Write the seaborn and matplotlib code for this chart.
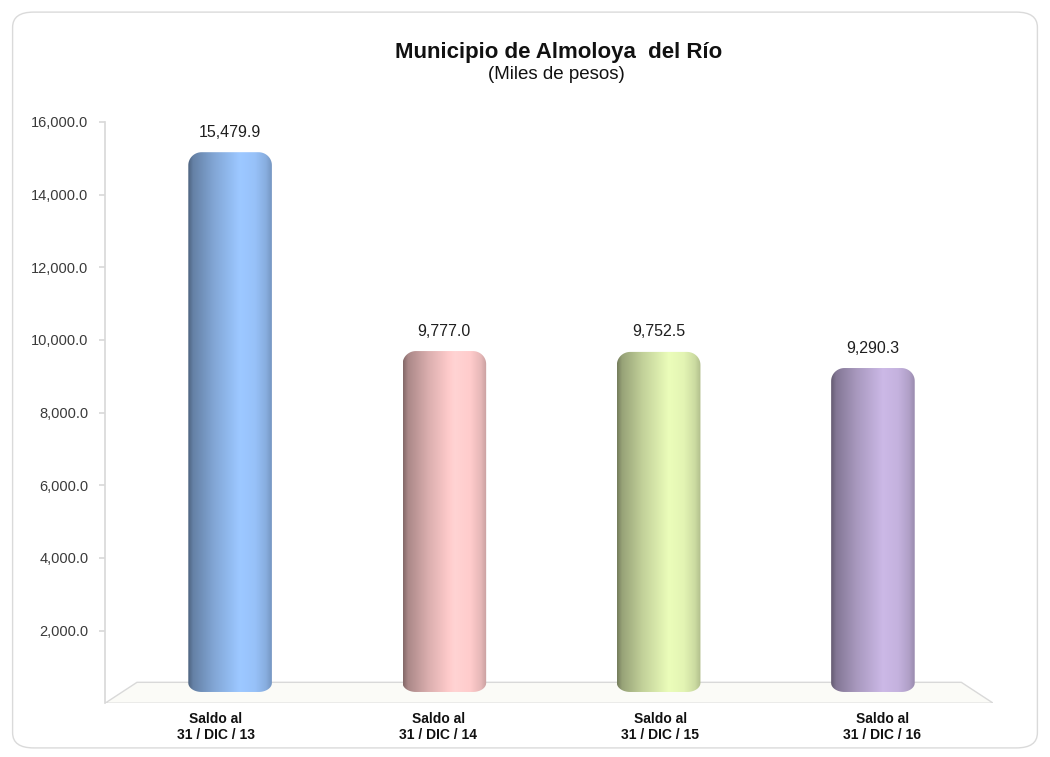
import numpy as np
import pandas as pd
import matplotlib
matplotlib.use("Agg")
import matplotlib.pyplot as plt
import seaborn as sns
from matplotlib.patches import FancyBboxPatch, Polygon
from matplotlib.colors import to_rgb
from matplotlib.ticker import FuncFormatter, FixedLocator

categories = ["Saldo al\n31 / DIC / 13", "Saldo al\n31 / DIC / 14",
              "Saldo al\n31 / DIC / 15", "Saldo al\n31 / DIC / 16"]
values = [15479.9, 9777.0, 9752.5, 9290.3]
bar_colors = ["#8CB3E6", "#EDBDBD", "#D2E2A6", "#B6A5CE"]
title = "Municipio de Almoloya  del Río"
subtitle = "(Miles de pesos)"
yticks = [2000, 4000, 6000, 8000, 10000, 12000, 14000, 16000]

sns.set_theme(style="white")
plt.rcParams['font.family'] = ['Liberation Sans', 'DejaVu Sans']

fig = plt.figure(figsize=(10.5, 7.57), dpi=100)
frame = FancyBboxPatch((0.012, 0.012), 0.976, 0.972, boxstyle="round,pad=0,rounding_size=0.02",
                       transform=fig.transFigure, facecolor="white", edgecolor="#DADADA", lw=1.0,
                       zorder=-5)
fig.patches.append(frame)

# main (front) axes: value scale, floor, category labels
ax = fig.add_axes([0.100, 0.071, 0.846, 0.768])
ax.set_facecolor("none")
ax.set_xlim(-0.5, 3.5)
ax.set_ylim(0, 16000)
ax.set_xticks(range(len(categories)))
ax.set_xticklabels(categories)

floor = Polygon([[0.0, 0.0], [0.036, 0.036], [0.964, 0.036], [1.0, 0.0]], closed=True,
                transform=ax.transAxes, facecolor="#FBFBF7", edgecolor="#D9D9D9", lw=1.0, zorder=0.5)
ax.add_patch(floor)

ax.yaxis.set_major_locator(FixedLocator(yticks))
ax.yaxis.set_major_formatter(FuncFormatter(lambda v, p: f"{v:,.1f}"))
ax.tick_params(axis="y", labelsize=10.5, labelcolor="#3a3a3a", length=4, color="#D9D9D9",
               left=True, pad=8)
ax.tick_params(axis="x", labelsize=10, length=0, pad=6)
for lbl in ax.get_xticklabels():
    lbl.set_fontweight("bold")
    lbl.set_color("#111111")
for s in ["top", "right", "bottom"]:
    ax.spines[s].set_visible(False)
ax.spines["left"].set_color("#D9D9D9")

# back-wall axes (3D depth): bars sit slightly back and to the right
ax2 = fig.add_axes([0.1171, 0.0859, 0.8163, 0.737])
ax2.set_facecolor("none")
df = pd.DataFrame({"cat": categories, "val": values})
sns.barplot(data=df, x="cat", y="val", hue="cat", palette=bar_colors, legend=False,
            width=0.39, ax=ax2, saturation=1)
ax2.set_xlim(-0.5, 3.5)
ax2.set_ylim(0, 16000)
ax2.axis("off")

px_per_unit = 0.737 * 757 / 16000.0
ry_top = 13 / px_per_unit
ry_bot = 9 / px_per_unit

x = np.linspace(0, 1, 256)
shade = np.interp(x, [0, 0.06, 0.3, 0.62, 0.8, 0.93, 1.0],
                  [0.55, 0.72, 0.92, 1.12, 1.08, 0.97, 0.84])
for patch, col, v in zip(list(ax2.patches), bar_colors, values):
    rgb = np.array(to_rgb(col))
    x0 = patch.get_x(); w = patch.get_width()
    patch.set_visible(False)
    rx = 0.16 * w
    t = np.linspace(0, np.pi / 2, 20)
    pts = []
    pts += list(zip(x0 + rx - rx * np.cos(t), ry_bot - ry_bot * np.sin(t)))
    pts += list(zip(x0 + w - rx + rx * np.sin(t), ry_bot - ry_bot * np.cos(t)))
    pts += list(zip(x0 + w - rx + rx * np.cos(t), v - ry_top + ry_top * np.sin(t)))
    pts += list(zip(x0 + rx - rx * np.sin(t), v - ry_top + ry_top * np.cos(t)))
    body = Polygon(pts, closed=True, facecolor="none", edgecolor="none")
    ax2.add_patch(body)
    grad = np.clip(rgb[None, :] * shade[:, None], 0, 1)
    img = np.tile(grad[None, :, :], (4, 1, 1))
    im = ax2.imshow(img, extent=[x0, x0 + w, 0, v], aspect="auto", zorder=2,
                    interpolation="bilinear", origin="upper")
    im.set_clip_path(body)
    ax2.annotate(f"{v:,.1f}", (x0 + w / 2, v), xytext=(0, 9), textcoords="offset points",
                 ha="center", va="bottom", fontsize=11.5, color="#1f1f1f")
ax2.set_xlim(-0.5, 3.5)
ax2.set_ylim(0, 16000)

fig.text(0.532, 0.930, title, ha="center", va="center", fontsize=16, fontweight="bold", color="#111111")
fig.text(0.530, 0.902, subtitle, ha="center", va="center", fontsize=13.5, color="#111111")

fig.savefig("out.png", dpi=100)
